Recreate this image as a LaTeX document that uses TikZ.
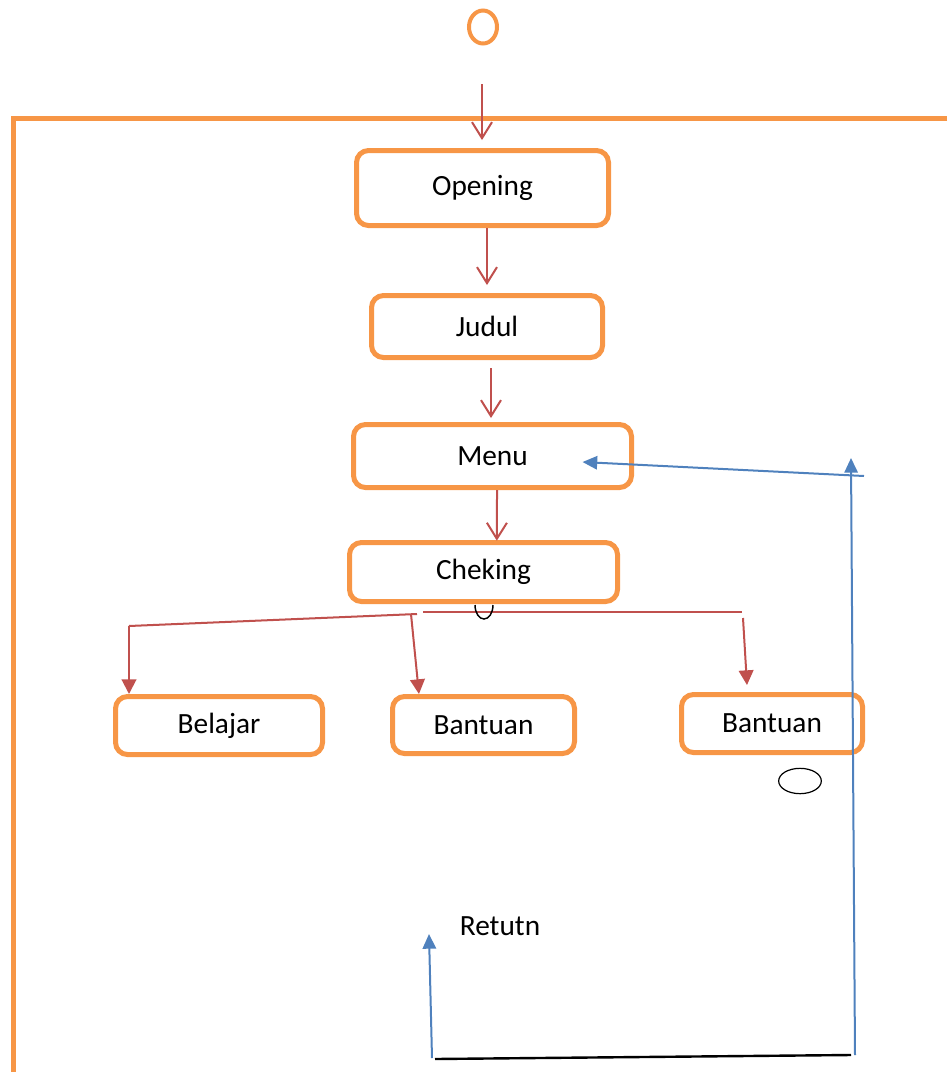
\documentclass[tikz,border=0pt]{standalone}
\usepackage{fontspec}
\setmainfont{Carlito}
\usetikzlibrary{arrows.meta,shapes.geometric}
\definecolor{boxorange}{RGB}{247,150,70}
\definecolor{flowred}{RGB}{192,80,77}
\definecolor{backblue}{RGB}{79,129,189}

\begin{document}
\begin{tikzpicture}[x=0.75pt,y=-0.75pt,
        stepbox/.style={draw=boxorange,line width=3.75pt,rounded corners=9pt,inner sep=0pt,font=\fontsize{22}{26}\selectfont},
        flow/.style={flowred,line width=1.5pt,-{Straight Barb[length=12pt,width=15pt,line width=1.5pt]}},
        branch/.style={flowred,line width=1.5pt,-{Triangle[length=11pt,width=11pt]}},
        back/.style={backblue,line width=1.5pt,-{Triangle[length=11pt,width=10pt]}}]
        \useasboundingbox (0,0) rectangle (947,1072);
        \draw[boxorange,line width=3.75pt] (947,118) -- (13,118) -- (13,1074);
        \node[ellipse,draw=boxorange,line width=3pt,minimum width=21pt,minimum height=24.75pt,inner sep=0pt] (start) at (483,27) {};
        \node[stepbox,minimum width=189pt,minimum height=56.25pt] (Opening) at (482.5,188) {Opening};
        \node[stepbox,minimum width=173.25pt,minimum height=46.5pt] (Judul) at (487,326.5) {Judul};
        \node[stepbox,minimum width=208.5pt,minimum height=47.25pt] (Menu) at (492.5,456) {Menu};
        \node[stepbox,minimum width=201pt,minimum height=44.25pt] (Cheking) at (483.5,572) {Cheking};
        \node[stepbox,minimum width=155.25pt,minimum height=43.5pt] (Belajar) at (219,725.5) {Belajar};
        \node[stepbox,minimum width=136.5pt,minimum height=42.75pt] (BantuanA) at (483.5,725) {Bantuan};
        \node[stepbox,minimum width=135.75pt,minimum height=43.5pt] (BantuanB) at (772,723.5) {Bantuan};
        \node[ellipse,draw,line width=0.9pt,minimum width=32pt,minimum height=19pt,inner sep=0pt] (endmark) at (800,781) {};
        \node[font=\fontsize{22}{26}\selectfont] (Retutn) at (500,926) {Retutn};
        \coordinate (entry) at (482,84);
        \draw[flow] (entry) -- ([yshift=6pt]Opening.north -| entry);
        \draw[flow] (Opening.south -| Judul.north) -- ([yshift=6pt]Judul.north);
        \draw[flow] ([xshift=3pt,yshift=-6pt]Judul.south) -- ([xshift=3pt,yshift=3pt]Menu.north -| Judul.north);
        \draw[flow] ([xshift=3.4pt]Menu.south) -- ([xshift=10pt,yshift=-0.5pt]Cheking.north);
        \coordinate (forkL) at (417,614);
        \coordinate (forkB) at (129,626);
        \coordinate (forkM) at (411,614);
        \coordinate (forkR) at (423,612);
        \coordinate (forkE) at (742,612);
        \coordinate (forkD) at (743,618);
        \draw[flowred,line width=1.5pt] (forkL) -- (forkB);
        \draw[flowred,line width=1.5pt] (forkR) -- (forkE);
        \draw[branch] (forkB) -- (forkB |- Belajar.north);
        \draw[branch] (forkM) -- ([xshift=-48.4pt]BantuanA.north);
        \draw[branch] (forkD) -- ([xshift=-18.75pt,yshift=5.25pt]BantuanB.north);
        \draw[line width=1.1pt] (475,605) arc[start angle=180,end angle=360,x radius=6.75pt,y radius=10.5pt];
        \coordinate (backin) at (864,476);
        \coordinate (backtop) at (851,458);
        \coordinate (backbot) at (855,1055);
        \coordinate (lowR) at (851,1055);
        \coordinate (lowL) at (435,1059);
        \coordinate (upbot) at (432,1058);
        \coordinate (uptop) at (429,934);
        \draw[back] (backin) -- ([xshift=-38.6pt,yshift=-4.5pt]Menu.east);
        \draw[back] (backbot) -- (backtop);
        \draw[line width=1.8pt] (lowL) -- (lowR);
        \draw[back] (upbot) -- (uptop);
\end{tikzpicture}
\end{document}
